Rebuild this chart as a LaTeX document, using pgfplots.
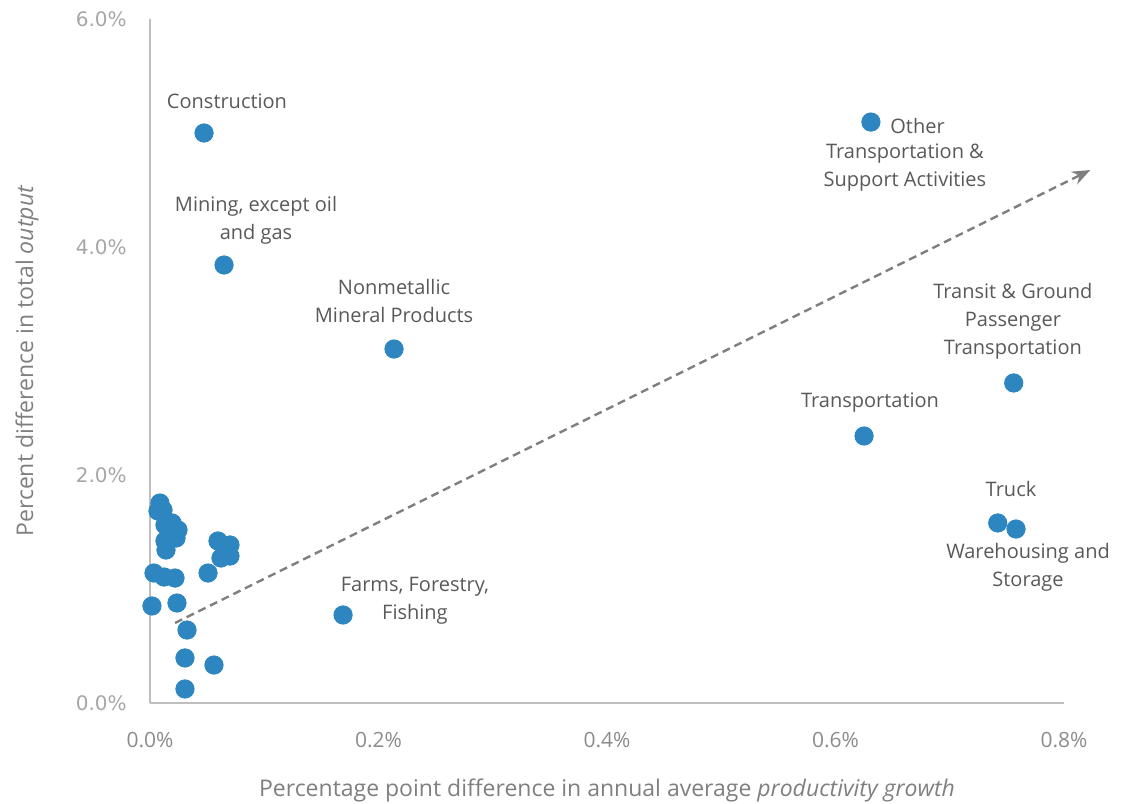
\documentclass[border=0pt]{standalone}
\usepackage{fontspec}
\setmainfont{Open Sans}
\newfontfamily\dejavu{DejaVu Sans}
\usepackage{pgfplots}
\pgfplotsset{compat=1.18}
\usetikzlibrary{arrows.meta}
\definecolor{ptblue}{HTML}{2E86C1}
\definecolor{lblgray}{HTML}{595959}
\definecolor{titlegray}{HTML}{7F7F7F}
\definecolor{tickgray}{HTML}{8C8C8C}
\definecolor{ytickgray}{HTML}{A6A6A6}
\definecolor{axgray}{HTML}{BFBFBF}
\definecolor{arrowgray}{HTML}{7F7F7F}
\begin{document}
\begin{tikzpicture}
\begin{axis}[name=ax, scale only axis, width=457pt, height=342pt,
  xmin=0, xmax=0.8, ymin=0, ymax=6, clip=false,
  axis lines=left, axis line style={-, draw=axgray, line width=1.2pt},
  major tick length=0pt,
  xtick={0,0.2,0.4,0.6,0.8}, xticklabels={0.0\%,0.2\%,0.4\%,0.6\%,0.8\%},
  ytick={0,2,4,6}, yticklabels={0.0\%,2.0\%,4.0\%,6.0\%},
  xticklabel style={anchor=center, yshift=-18.5pt, inner sep=0pt, font=\fontsize{10.5}{12}\selectfont, text=tickgray},
  yticklabel style={anchor=east, xshift=-11.5pt, inner sep=0pt, font=\dejavu\fontsize{10}{12}\selectfont, text=ytickgray},
  xlabel={Percentage point difference in annual average \textit{productivity growth}},
  ylabel={Percent difference in total \textit{output}},
  xlabel style={at={(axis description cs:0.5,-0.1272)}, anchor=center, font=\fontsize{11.5}{13}\selectfont, text=titlegray},
  ylabel style={at={(axis description cs:-0.1346,0.5)}, anchor=center, rotate=0, font=\fontsize{11.5}{13}\selectfont, text=titlegray},
]
\addplot[only marks, mark=*, mark size=4.6pt, mark options={fill=ptblue, draw=ptblue}] coordinates {
(0.0087,1.754) (0.0114,1.693) (0.0070,1.684) (0.0131,1.561) (0.0193,1.579)
(0.0245,1.518) (0.0131,1.421) (0.0228,1.447) (0.0140,1.342) (0.0595,1.421)
(0.0700,1.386) (0.0621,1.272) (0.0700,1.289) (0.0035,1.140) (0.0123,1.105)
(0.0219,1.096) (0.0508,1.140) (0.0017,0.851) (0.0236,0.877) (0.0324,0.640)
(0.0306,0.395) (0.0560,0.333) (0.0306,0.123)
(0.0473,5.000) (0.0648,3.842) (0.2136,3.105) (0.1690,0.772)
(0.6310,5.096) (0.7560,2.807) (0.6250,2.342) (0.7420,1.579) (0.7580,1.526)
};
\addplot[arrowgray, line width=1.2pt, dash pattern=on 4pt off 2.5pt, -{Stealth[length=9pt,width=7pt]}] coordinates {(0.0219,0.702) (0.823,4.675)};
\begin{scope}[every node/.style={font=\fontsize{10}{14}\selectfont, text=lblgray, align=center, inner sep=0pt}]
\node at (axis cs:0.0674,5.281) {Construction};
\node at (axis cs:0.0928,4.237) {Mining, except oil\\and gas};
\node at (axis cs:0.2136,3.526) {Nonmetallic\\Mineral Products};
\node at (axis cs:0.2319,0.895) {Farms, Forestry,\\Fishing};
\node[anchor=west] at (axis cs:0.6477,5.061) {Other};
\node at (axis cs:0.6608,4.693) {Transportation \&\\Support Activities};
\node at (axis cs:0.7553,3.351) {Transit \& Ground\\Passenger\\Transportation};
\node at (axis cs:0.6302,2.632) {Transportation};
\node at (axis cs:0.7536,1.877) {Truck};
\node at (axis cs:0.7685,1.193) {Warehousing and\\Storage};
\end{scope}
\end{axis}
\pgfresetboundingbox
\useasboundingbox ([xshift=-75pt,yshift=-50.5pt]ax.south west) rectangle ([xshift=31pt,yshift=9.5pt]ax.north east);
\end{tikzpicture}
\end{document}
